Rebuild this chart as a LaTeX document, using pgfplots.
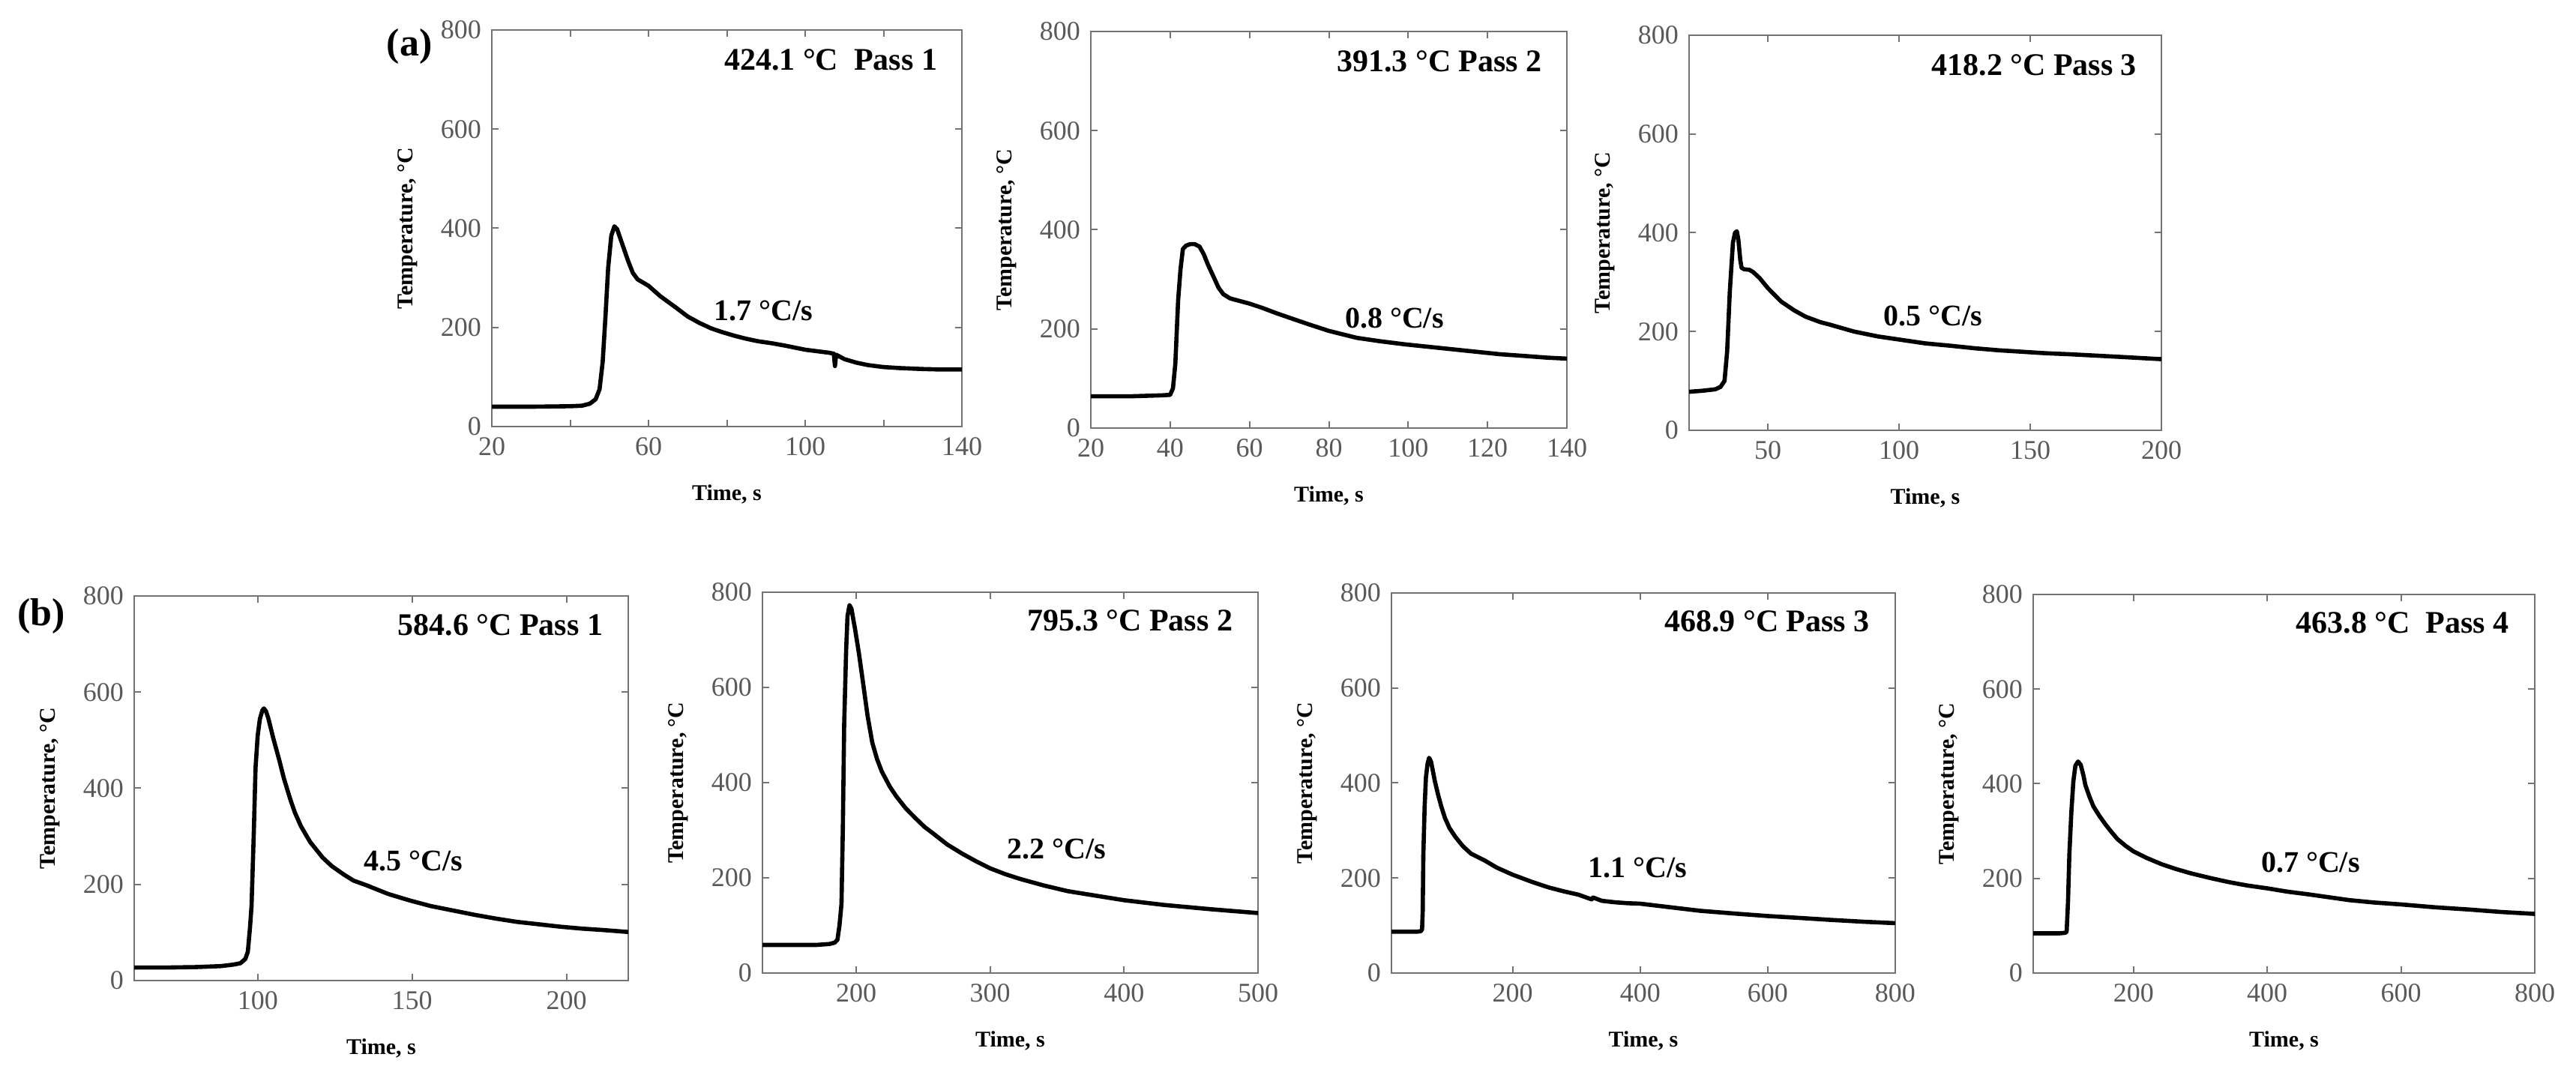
\documentclass[border=0pt]{standalone}
\usepackage{fontspec}
\setmainfont{Liberation Serif}
\usepackage{pgfplots}
\pgfplotsset{compat=1.18}
\pgfplotsset{
  panel/.style={
    scale only axis,
    anchor=south west,
    axis line style={draw=black!55, line width=0.6pt},
    tick style={draw=black!55, line width=0.5pt},
    major tick length=2.2pt,
    tick align=inside,
    ymin=0, ymax=800, ytick={0,200,400,600,800},
    /pgf/number format/assume math mode=true,
    ticklabel style={font=\fontsize{9}{10}\selectfont, text=black!65},
    xlabel={Time, s},
    ylabel={Temperature, °C},
    label style={font=\fontsize{7.5}{8}\selectfont\bfseries},
    xlabel style={yshift=-3pt},
    ylabel style={yshift=1pt},
    scaled ticks=false,
  },
}
\tikzset{
  curve/.style={black, line width=1.4pt, mark=none, line join=round, line cap=round},
  ann/.style={font=\fontsize{10.5}{11}\selectfont\bfseries, anchor=east},
  rate/.style={font=\fontsize{10}{11}\selectfont\bfseries, anchor=west},
}
\begin{document}
\begin{tikzpicture}
\useasboundingbox (0,0) rectangle (859pt,357.5pt);

% ---------------- (a) Pass 1
\begin{axis}[panel, name=a1, at={(164pt,215.25pt)}, width=156.75pt, height=132.25pt,
  xmin=20, xmax=140, xtick={20,40,60,80,100,120,140}, xticklabels={20,,60,,100,,140}]
\addplot[curve] coordinates {(20,40) (30,40) (40,41) (43,42) (45,46) (46.5,55) (47.5,75) (48.3,130) (49,220) (49.7,320) (50.5,385) (51.3,404) (52,398) (53,375) (54.8,334) (56,310) (57.2,297) (60,284) (63,263) (67,240) (70,222) (73,209) (76,198) (79,190) (82,183) (85,177) (88,172) (91.5,168) (95,163) (100,155) (103,152) (106,149) (107.3,147) (107.6,122) (107.9,145) (110,136) (113,129) (116,124) (120,120) (124,118) (130,116) (135,115) (140,115)};
\node[ann] at (rel axis cs:0.97,0.925) {424.1 °C\ \ Pass 1};
\node[rate] at (axis cs:74,234) {1.7 °C/s};
\end{axis}
\node[font=\fontsize{13}{14}\selectfont\bfseries, xshift=-27.5pt, yshift=-5.5pt] at (a1.north west) {(a)};

% ---------------- (a) Pass 2
\begin{axis}[panel, at={(363.75pt,214.75pt)}, width=158.75pt, height=132.25pt,
  xmin=20, xmax=140, xtick={20,40,60,80,100,120,140}]
\addplot[curve] coordinates {(20,64) (30,64) (38,66) (40,67) (40.7,80) (41.3,130) (42,257) (42.6,320) (43.2,361) (44,368) (45,371) (46.2,371) (47.4,366) (48.5,350) (49.5,330) (51,304) (52.2,283) (53.4,270) (55,262) (55.8,260) (60,251) (63,243) (67,231) (71,220) (75,209) (80,196) (87,182) (93,175) (99,169) (105,164) (111,159) (117,154) (123,149) (130,145) (135,142) (140,140)};
\node[ann] at (rel axis cs:0.97,0.925) {391.3 °C Pass 2};
\node[rate] at (axis cs:81.4,222) {0.8 °C/s};
\end{axis}

% ---------------- (a) Pass 3
\begin{axis}[panel, at={(563.25pt,214pt)}, width=157.5pt, height=131.75pt,
  xmin=20, xmax=200, xtick={50,100,150,200}]
\addplot[curve] coordinates {(20,78) (25,80) (30,83) (32,88) (33.5,100) (34.5,160) (35.5,280) (36.7,380) (37.5,400) (38.2,403) (38.8,385) (39.5,345) (40,329) (41,326) (43,325) (44.5,320) (46.9,308) (50,288) (55,261) (60,243) (64.4,230) (70,219) (73.6,214) (82.8,200) (92,190) (101,183) (110,176) (120,171) (129,166) (138,162) (147,159) (156,156) (165,154) (183,149) (200,144)};
\node[ann] at (rel axis cs:0.97,0.925) {418.2 °C Pass 3};
\node[rate] at (axis cs:90,231) {0.5 °C/s};
\end{axis}

% ---------------- (b) Pass 1
\begin{axis}[panel, name=b1, at={(44.75pt,30.5pt)}, width=164.75pt, height=128.25pt,
  xmin=60, xmax=220, xtick={100,150,200}]
\addplot[curve] coordinates {(60,27) (70,27) (80,28) (88,30) (92,33) (94.4,36) (96,45) (96.8,60) (97.5,110) (98,155) (98.7,300) (99.3,443) (100,510) (100.7,544) (101.5,562) (102,566) (102.7,560) (103.5,544) (105,505) (107,458) (108.5,420) (110.5,378) (112,350) (114,321) (117,288) (121,256) (124,238) (128,220) (131,208) (135.3,198) (142.3,180) (149,167) (156,155) (163,146) (170,137) (177,129) (184,122) (191,117) (198,112) (205,108) (212,105) (220,101)};
\node[ann] at (rel axis cs:0.97,0.925) {584.6 °C Pass 1};
\node[rate] at (axis cs:131,248) {4.5 °C/s};
\end{axis}
\node[font=\fontsize{13}{14}\selectfont\bfseries, xshift=-31pt, yshift=-6.75pt] at (b1.north west) {(b)};

% ---------------- (b) Pass 2
\begin{axis}[panel, at={(254.25pt,33pt)}, width=165.25pt, height=127pt,
  xmin=130, xmax=500, xtick={200,300,400,500}]
\addplot[curve] coordinates {(130,59) (150,59) (170,59) (180,61) (184,64) (186,70) (187.5,100) (189,145) (190,300) (191,521) (192.5,680) (193.5,750) (195,773) (196.5,765) (198,740) (199,725) (202,672) (205,612) (208.5,540) (212,484) (215.5,450) (219,424) (225,392) (230,371) (237,346) (244,326) (251,307) (258,292) (268,270) (279,251) (290,234) (300,220) (311,208) (322,198) (340,184) (358,172) (380,162) (400,153) (430,143) (465,134) (500,126)};
\node[ann] at (rel axis cs:0.97,0.925) {795.3 °C Pass 2};
\node[rate] at (axis cs:305,261) {2.2 °C/s};
\end{axis}

% ---------------- (b) Pass 3
\begin{axis}[panel, at={(464pt,33pt)}, width=168pt, height=126.75pt,
  xmin=10, xmax=800, xtick={200,400,600,800}]
\addplot[curve] coordinates {(10,87) (30,87) (50,87) (56,88) (58,92) (59,130) (60,250) (62,350) (64,411) (66.5,440) (69,453) (72,445) (75,425) (78,404) (83,376) (88,351) (94,326) (101,305) (110,287) (122,267) (135,251) (156,237) (175,222) (200,207) (230,192) (257,180) (280,172) (303,165) (324,155) (326,159) (340,152) (360,149) (380,147) (400,146) (450,138) (494,131) (550,125) (600,120) (650,116) (697,112) (750,108) (800,105)};
\node[ann] at (rel axis cs:0.97,0.925) {468.9 °C Pass 3};
\node[rate] at (axis cs:302,221) {1.1 °C/s};
\end{axis}

% ---------------- (b) Pass 4
\begin{axis}[panel, at={(678pt,33pt)}, width=167.25pt, height=126.25pt,
  xmin=50, xmax=800, xtick={200,400,600,800}]
\addplot[curve] coordinates {(50,84) (70,84) (90,84) (98,85) (100,88) (102,150) (104,250) (107,340) (110,405) (113,438) (117,447) (121,440) (125,418) (128,397) (134,373) (140,352) (149,332) (158,314) (167,298) (176,283) (188,269) (200,257) (220,243) (242,230) (263,220) (285,211) (314,201) (343,192) (370,185) (400,179) (430,172) (463,166) (493,160) (523,154) (560,149) (600,145) (650,139) (704,134) (750,129) (800,125)};
\node[ann] at (rel axis cs:0.97,0.925) {463.8 °C\ \ Pass 4};
\node[rate] at (axis cs:375,233) {0.7 °C/s};
\end{axis}
\end{tikzpicture}
\end{document}
